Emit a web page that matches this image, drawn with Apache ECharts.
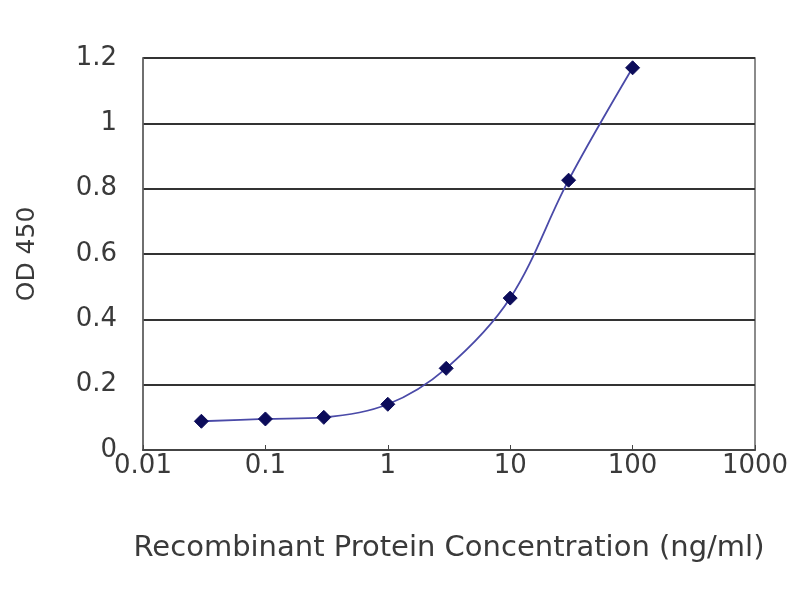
<!DOCTYPE html>
<html>
<head>
<meta charset="utf-8">
<script src="https://cdn.jsdelivr.net/npm/echarts@6/dist/echarts.min.js"></script>
<style>
  html, body { margin: 0; padding: 0; background: #fff; }
  #chart { width: 800px; height: 600px; }
</style>
</head>
<body>
<div id="chart"></div>
<script>
// concentrations (ng/ml) and measured OD 450
const concentrations = [0.03, 0.1, 0.3, 1, 3, 10, 30, 100];
const odValues = [0.088, 0.095, 0.10, 0.14, 0.25, 0.465, 0.826, 1.17];
const xTickLabels = ['0.01', '0.1', '1', '10', '100', '1000'];

const chart = echarts.init(document.getElementById('chart'));

const textColor = '#3a3a3a';
const fontFamily = '"DejaVu Sans", Verdana, sans-serif';

chart.setOption({
    animation: false,
    backgroundColor: '#fff',
    grid: {
        left: 143, right: 45, top: 58, bottom: 150,
        show: true, borderColor: '#666', borderWidth: 1.5
    },
    xAxis: {
        type: 'log',
        logBase: 10,
        min: 0.01,
        max: 1000,
        name: 'Recombinant Protein Concentration (ng/ml)',
        nameLocation: 'middle',
        nameGap: 84,
        nameTextStyle: { color: textColor, fontSize: 29, fontFamily },
        axisLine: { show: true, lineStyle: { color: '#444', width: 2 } },
        axisTick: { show: true, inside: true, length: 5, lineStyle: { color: '#444' } },
        minorTick: { show: false },
        splitLine: { show: false },
        axisLabel: {
            color: textColor, fontSize: 26, fontFamily, margin: 3,
            formatter: v => {
                const i = Math.round(Math.log10(v)) + 2;
                return xTickLabels[i] !== undefined ? xTickLabels[i] : '';
            }
        }
    },
    yAxis: {
        type: 'value',
        min: 0,
        max: 1.2,
        interval: 0.2,
        name: 'OD 450',
        nameLocation: 'middle',
        nameGap: 103,
        nameTextStyle: { color: textColor, fontSize: 25, fontFamily },
        axisLine: { show: true, lineStyle: { color: '#666', width: 1.5 } },
        axisTick: { show: false },
        splitLine: { show: true, lineStyle: { color: '#333', width: 2 } },
        axisLabel: {
            color: textColor, fontSize: 26, fontFamily, margin: 26,
            formatter: v => String(Math.round(v * 10) / 10)
        }
    },
    series: [{
        type: 'line',
        data: concentrations.map((c, i) => [c, odValues[i]]),
        smooth: 0.35,
        symbol: 'diamond',
        symbolSize: 14,
        lineStyle: { color: '#4a4aa8', width: 1.8 },
        itemStyle: { color: '#0c0c5a', borderColor: '#0c0c5a' }
    }]
});
</script>
</body>
</html>
